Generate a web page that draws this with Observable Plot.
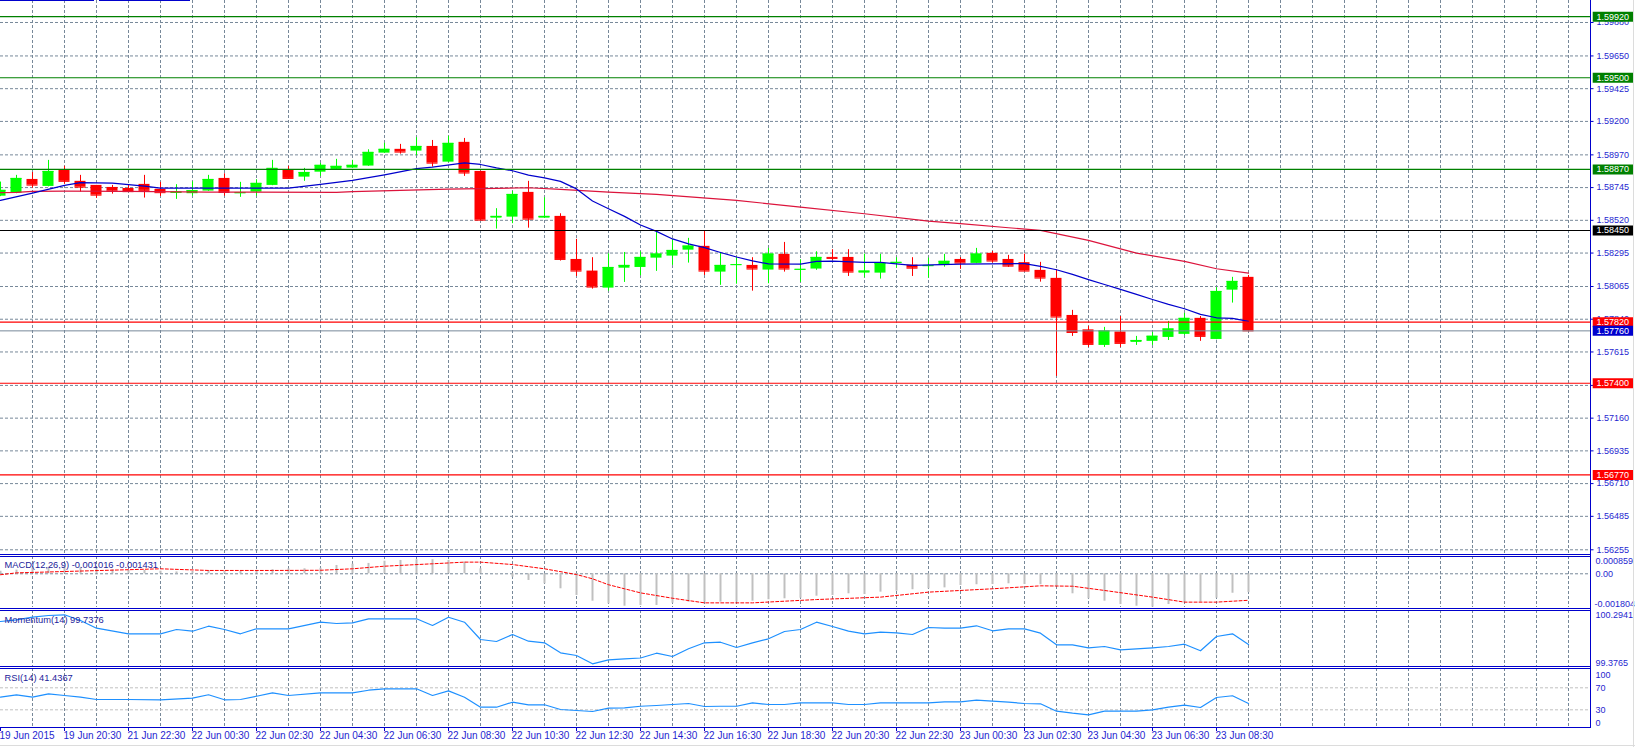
<!DOCTYPE html>
<html><head><meta charset="utf-8">
<script src="https://cdn.jsdelivr.net/npm/d3@7"></script>
<script src="https://cdn.jsdelivr.net/npm/@observablehq/plot@0.6"></script>
<style>
html,body{margin:0;padding:0;background:#fff;}
#chart{position:relative;width:1635px;height:747px;overflow:hidden;background:#fff;}
.bl{position:absolute;background:#0000cc;}
</style></head><body><div id="chart"></div>
<script>
// ---------------- DATA ----------------
const timeTickBars = [0,4,8,12,16,20,24,28,32,36,40,44,48,52,56,60,64,68,72,76];
const timeTickLabels = ["19 Jun 2015","19 Jun 20:30","21 Jun 22:30","22 Jun 00:30","22 Jun 02:30","22 Jun 04:30","22 Jun 06:30","22 Jun 08:30","22 Jun 10:30","22 Jun 12:30","22 Jun 14:30","22 Jun 16:30","22 Jun 18:30","22 Jun 20:30","22 Jun 22:30","23 Jun 00:30","23 Jun 02:30","23 Jun 04:30","23 Jun 06:30","23 Jun 08:30"];
const priceTicks = [1.59880,1.59650,1.59425,1.59200,1.58970,1.58745,1.58520,1.58295,1.58065,1.57840,1.57615,1.57385,1.57160,1.56935,1.56710,1.56485,1.56255];

const openP  = [1.58686,1.58707,1.58801,1.58753,1.58865,1.58788,1.58760,1.58746,1.58739,1.58767,1.58733,1.58705,1.58703,1.58721,1.58808,1.58703,1.58714,1.58760,1.58865,1.58817,1.58851,1.58870,1.58879,1.58893,1.58982,1.59008,1.58996,1.59028,1.58920,1.59056,1.58856,1.58535,1.58542,1.58712,1.58535,1.58547,1.58251,1.58171,1.58054,1.58191,1.58196,1.58260,1.58274,1.58315,1.58341,1.58164,1.58210,1.58210,1.58178,1.58286,1.58178,1.58185,1.58265,1.58265,1.58157,1.58157,1.58224,1.58212,1.58203,1.58210,1.58251,1.58224,1.58293,1.58251,1.58229,1.58176,1.58121,1.57866,1.57767,1.57660,1.57752,1.57681,1.57688,1.57715,1.57736,1.57846,1.57701,1.58040,1.58128];
const highP  = [1.58783,1.58829,1.58849,1.58932,1.58891,1.58829,1.58760,1.58760,1.58765,1.58829,1.58781,1.58765,1.58785,1.58829,1.58840,1.58781,1.58799,1.58932,1.58891,1.58877,1.58911,1.58939,1.58932,1.59005,1.59049,1.59042,1.59088,1.59069,1.59097,1.59083,1.58858,1.58600,1.58719,1.58788,1.58675,1.58565,1.58389,1.58263,1.58290,1.58299,1.58304,1.58444,1.58387,1.58396,1.58444,1.58299,1.58263,1.58263,1.58327,1.58368,1.58249,1.58304,1.58318,1.58318,1.58288,1.58286,1.58263,1.58263,1.58260,1.58286,1.58263,1.58327,1.58306,1.58279,1.58288,1.58231,1.58180,1.57901,1.57791,1.57784,1.57859,1.57722,1.57749,1.57825,1.57880,1.57859,1.58057,1.58128,1.58141];
const lowP   = [1.58683,1.58703,1.58741,1.58750,1.58767,1.58714,1.58671,1.58700,1.58715,1.58673,1.58684,1.58664,1.58686,1.58719,1.58686,1.58678,1.58686,1.58758,1.58806,1.58788,1.58822,1.58868,1.58877,1.58891,1.58980,1.58975,1.58964,1.58886,1.58918,1.58822,1.58519,1.58460,1.58497,1.58466,1.58533,1.58240,1.58134,1.58047,1.58033,1.58093,1.58139,1.58169,1.58210,1.58226,1.58141,1.58073,1.58081,1.58033,1.58084,1.58164,1.58093,1.58176,1.58244,1.58134,1.58125,1.58116,1.58191,1.58134,1.58123,1.58198,1.58183,1.58222,1.58226,1.58196,1.58169,1.58095,1.57447,1.57722,1.57646,1.57646,1.57646,1.57660,1.57660,1.57694,1.57729,1.57688,1.57699,1.57951,1.57760];
const closeP = [1.58726,1.58808,1.58762,1.58856,1.58788,1.58748,1.58693,1.58721,1.58717,1.58726,1.58710,1.58714,1.58724,1.58801,1.58712,1.58710,1.58774,1.58877,1.58808,1.58849,1.58898,1.58891,1.58898,1.58987,1.59008,1.58989,1.59028,1.58913,1.59049,1.58845,1.58521,1.58547,1.58698,1.58528,1.58547,1.58251,1.58171,1.58061,1.58196,1.58210,1.58265,1.58288,1.58313,1.58343,1.58171,1.58210,1.58215,1.58185,1.58288,1.58185,1.58183,1.58265,1.58258,1.58164,1.58171,1.58224,1.58231,1.58191,1.58208,1.58238,1.58226,1.58288,1.58240,1.58205,1.58171,1.58123,1.57855,1.57749,1.57667,1.57759,1.57674,1.57694,1.57723,1.57773,1.57846,1.57722,1.58031,1.58100,1.57760];

const maFastBars = [0,2,4,5,7,9,10,18,20,22,24,26,27,29,30,31,32,33,34,35,36,37,38,39,40,41,42,43,44,45,46,47,48,50,51,52,54,55,57,60,64,65,66,67,68,69,70,71,72,73,74,75,76,77,78];
const maFastVals = [1.58657,1.58707,1.58760,1.58779,1.58776,1.58755,1.58741,1.58741,1.58767,1.58794,1.58832,1.58875,1.58886,1.58915,1.58904,1.58880,1.58861,1.58831,1.58812,1.58788,1.58736,1.58653,1.58600,1.58547,1.58488,1.58444,1.58392,1.58358,1.58332,1.58299,1.58268,1.58241,1.58220,1.58219,1.58238,1.58240,1.58231,1.58231,1.58210,1.58219,1.58222,1.58203,1.58180,1.58148,1.58112,1.58079,1.58045,1.58011,1.57976,1.57942,1.57912,1.57873,1.57850,1.57846,1.57825];
const maSlowBars = [0,1,2,4,8,13,21,22,25,28,31,33,35,38,41,46,50,54,58,60,63,65,68,71,74,76,78];
const maSlowVals = [1.58710,1.58712,1.58719,1.58721,1.58719,1.58714,1.58712,1.58717,1.58726,1.58735,1.58739,1.58744,1.58733,1.58714,1.58698,1.58657,1.58611,1.58565,1.58515,1.58497,1.58469,1.58451,1.58382,1.58295,1.58238,1.58187,1.58157];

const levelPrices = [1.59920,1.59500,1.58870,1.58450,1.57820,1.57400,1.56770];
const levelColors = ["#008000","#008000","#008000","#000000","#ff0000","#ff0000","#ff0000"];
const bidPrice = 1.57760;

const macdMain = [0.00014,0.00020,0.00032,0.00035,0.00039,0.00035,0.00027,0.00022,0.00018,0.00018,0.00014,0.00010,0.00012,0.00018,0.00014,0.00012,0.00016,0.00022,0.00027,0.00027,0.00030,0.00045,0.00052,0.00056,0.00068,0.00072,0.00076,0.00076,0.00072,0.00063,0.00027,-0.00005,-0.00018,-0.00036,-0.00054,-0.00081,-0.00117,-0.00148,-0.00162,-0.00175,-0.00171,-0.00171,-0.00159,-0.00153,-0.00153,-0.00153,-0.00153,-0.00148,-0.00140,-0.00135,-0.00132,-0.00121,-0.00117,-0.00108,-0.00112,-0.00099,-0.00094,-0.00086,-0.00081,-0.00076,-0.00063,-0.00059,-0.00058,-0.00054,-0.00058,-0.00059,-0.00067,-0.00108,-0.00135,-0.00148,-0.00166,-0.00175,-0.00180,-0.00166,-0.00153,-0.00153,-0.00132,-0.00105,-0.001016];
const macdSigBars = [0,1,10,13,17,20,22,24,27,29,30,32,34,36,37,38,39,40,42,44,47,51,55,58,62,65,67,69,72,74,76,78];
const macdSigVals = [-0.00005,0.00005,0.00027,0.00018,0.00018,0.00019,0.00027,0.00041,0.00054,0.00063,0.00063,0.00050,0.00027,-0.00004,-0.00027,-0.00059,-0.00081,-0.00103,-0.00132,-0.00157,-0.00157,-0.00139,-0.00126,-0.00099,-0.00081,-0.00065,-0.00067,-0.00090,-0.00126,-0.00153,-0.00153,-0.001431];

const momBars = [0,1,2,3,4,5,6,8,10,11,12,13,14,15,16,18,20,21,22,23,26,27,28,29,30,31,32,33,34,35,36,37,38,39,40,41,42,43,44,45,46,47,48,49,50,51,52,53,54,55,56,57,58,59,60,61,62,63,64,65,66,67,68,69,70,71,72,73,74,75,76,77,78];
const momVals = [100.1257,100.1544,100.1981,100.2268,100.2385,100.1426,100.0129,99.9186,99.9186,99.9910,99.9624,100.0466,99.9910,99.9186,100.0028,100.0028,100.1139,100.0921,100.1038,100.1712,100.1712,100.0584,100.1981,100.1139,99.8227,99.7890,99.9068,99.7940,99.7671,99.5987,99.5533,99.4135,99.4809,99.4977,99.5112,99.5920,99.5364,99.6661,99.7671,99.7772,99.6880,99.7671,99.8345,99.9574,99.9910,100.1139,100.0415,99.9624,99.9186,99.9456,99.9355,99.9068,100.0247,100.0129,100.0129,100.0533,99.9692,100.0028,100.0028,99.9287,99.7334,99.7334,99.6829,99.7048,99.6493,99.6661,99.6829,99.7048,99.7435,99.6324,99.8732,99.9186,99.7376];

const rsiBars = [0,1,2,3,4,5,6,8,10,12,13,14,15,16,17,18,20,22,23,24,26,27,28,29,30,31,32,33,34,35,36,37,38,39,40,41,42,43,44,45,46,47,48,49,50,51,52,53,54,55,56,57,58,59,60,61,62,63,64,65,66,67,68,69,70,71,72,73,74,75,76,77,78];
const rsiVals = [52.9,57.3,52.9,59.1,56.0,52.9,48.7,48.7,48.2,51.1,57.3,48.2,48.7,54.7,60.9,56.0,60.9,60.9,65.6,68.2,68.2,56.0,64.5,52.9,34.7,34.7,43.8,39.1,39.1,30.5,28.7,26.9,32.9,33.6,36.5,37.8,39.6,41.5,36.0,36.5,36.5,42.7,39.6,39.6,42.7,42.7,42.7,39.6,39.6,42.7,42.7,42.5,42.7,44.5,44.5,47.5,45.6,43.8,41.5,40.9,27.5,23.8,20.9,27.5,27.5,27.5,30.0,34.7,38.4,34.2,52.4,55.5,41.4367];

const macdTitle = "MACD(12,26,9) -0.001016 -0.001431";
const momTitle = "Momentum(14) 99.7376";
const rsiTitle = "RSI(14) 41.4367";

// ---------------- LAYOUT / STYLE ----------------
const FONT = "'Liberation Sans', Arial, sans-serif";
const AXIS_X = 1590, BAR_PX = 16, XMAX = AXIS_X / BAR_PX;
const GRID = "#778899", AXIS = "#0000cc", TXT = "#1f1fd0", TITLE = "#22229a";
const PRICE_FS = 9, IND_FS = 9, TITLE_FS = 9.3, TIME_FS = 10;
const chart = document.getElementById("chart");

function panel(top, height, yDomain, marks) {
  const svg = Plot.plot({
    width: 1635, height, marginLeft: 0, marginRight: 45, marginTop: 0, marginBottom: 0,
    x: {domain: [0, XMAX], range: [0, AXIS_X], axis: null},
    y: {domain: yDomain, range: [height, 0], axis: null},
    color: {type: "identity"},
    style: {background: "transparent", overflow: "visible", fontFamily: FONT},
    marks
  });
  svg.style.position = "absolute";
  svg.style.left = "0px";
  svg.style.top = top + "px";
  chart.appendChild(svg);
}
const vGrid = d3.range(2, XMAX, 2);
const gridX = Plot.ruleX(vGrid, {x: d => d, stroke: GRID, strokeDasharray: "3,2"});

// ---------- main price panel ----------
const candles = openP.map((o, i) => ({i, open: o, high: highP[i], low: lowP[i], close: closeP[i]}));
const cc = d => d.close >= d.open ? "#00ff00" : "#ff0000";
const HW = 0.34375;
const fast = maFastBars.map((b, k) => ({i: b, v: maFastVals[k]}));
const slow = maSlowBars.map((b, k) => ({i: b, v: maSlowVals[k]}));
const levels = levelPrices.map((p, k) => ({p, c: levelColors[k]}));
const boxes = levels.concat([{p: bidPrice, c: "#0000cd"}]);
const fmt5 = d => d.toFixed(5);

panel(0, 554, [1.562226, 1.600312], [
  gridX,
  Plot.ruleY(priceTicks, {y: d => d, stroke: GRID, strokeDasharray: "3,2"}),
  Plot.ruleX(candles, {x: "i", y1: "low", y2: "high", stroke: cc}),
  Plot.rect(candles, {x1: d => d.i - HW, x2: d => d.i + HW, y1: "open", y2: "close", fill: cc}),
  Plot.ruleY(candles, {x1: d => d.i - HW, x2: d => d.i + HW, y: "close", stroke: cc}),
  Plot.line(slow, {x: "i", y: "v", stroke: "#dc143c", strokeWidth: 1.2}),
  Plot.line(fast, {x: "i", y: "v", stroke: "#0000cc", strokeWidth: 1.2}),
  Plot.ruleY(levels, {y: "p", stroke: "c", strokeWidth: 1.2}),
  Plot.ruleY([bidPrice], {y: d => d, stroke: GRID}),
  Plot.ruleY(priceTicks, {y: d => d, x1: () => XMAX, x2: () => XMAX + 0.22, stroke: AXIS}),
  Plot.text(priceTicks, {y: d => d, frameAnchor: "right", dx: 6, text: fmt5, textAnchor: "start", fill: TXT, fontSize: PRICE_FS}),
  Plot.ruleY(boxes, {y: "p", x1: () => XMAX + 0.17, x2: () => XMAX + 2.75, stroke: "c", strokeWidth: 10}),
  Plot.text(boxes, {y: "p", frameAnchor: "right", dx: 6, text: d => fmt5(d.p), textAnchor: "start", fill: "#ffffff", fontSize: PRICE_FS})
]);

// ---------- MACD ----------
const macdBars = macdMain.map((v, i) => ({i, v}));
const macdSig = macdSigBars.map((b, k) => ({i: b, v: macdSigVals[k]}));
panel(556, 51, [-0.00182, 0.000934], [
  gridX,
  Plot.ruleY([0], {y: d => d, stroke: GRID, strokeDasharray: "3,2"}),
  Plot.ruleX(macdBars, {x: "i", y1: () => 0, y2: "v", stroke: "#c0c0c0", strokeWidth: 2}),
  Plot.line(macdSig, {x: "i", y: "v", stroke: "#ff0000", strokeWidth: 1, strokeDasharray: "3,2"}),
  Plot.text([macdTitle], {frameAnchor: "top-left", dx: 4, dy: 9, text: d => d, lineAnchor: "middle", textAnchor: "start", fill: TITLE, fontSize: TITLE_FS}),
  Plot.text([0.000859], {y: d => d, frameAnchor: "right", dx: 5, text: d => "0.000859", lineAnchor: "top", textAnchor: "start", fill: TXT, fontSize: IND_FS}),
  Plot.text([0], {y: d => d, frameAnchor: "right", dx: 5, text: d => "0.00", lineAnchor: "middle", textAnchor: "start", fill: TXT, fontSize: IND_FS}),
  Plot.text([-0.001804], {y: d => d, frameAnchor: "right", dx: 4, text: d => "-0.001804", lineAnchor: "bottom", textAnchor: "start", fill: TXT, fontSize: IND_FS})
]);

// ---------- Momentum ----------
const mom = momBars.map((b, k) => ({i: b, v: momVals[k]}));
panel(610, 56, [99.3681, 100.3109], [
  gridX,
  Plot.line(mom, {x: "i", y: "v", stroke: "#1e90ff", strokeWidth: 1.2}),
  Plot.text([momTitle], {frameAnchor: "top-left", dx: 4, dy: 9.3, text: d => d, lineAnchor: "middle", textAnchor: "start", fill: TITLE, fontSize: TITLE_FS}),
  Plot.text([100.2941], {y: d => d, frameAnchor: "right", dx: 5, text: d => "100.2941", lineAnchor: "top", textAnchor: "start", fill: TXT, fontSize: IND_FS}),
  Plot.text([99.3765], {y: d => d, frameAnchor: "right", dx: 5, text: d => "99.3765", lineAnchor: "bottom", textAnchor: "start", fill: TXT, fontSize: IND_FS})
]);

// ---------- RSI ----------
const rsi = rsiBars.map((b, k) => ({i: b, v: rsiVals[k]}));
panel(668, 59, [-2.18, 105.09], [
  gridX,
  Plot.ruleY([70, 30], {y: d => d, stroke: "#c0c0c0", strokeDasharray: "3,2"}),
  Plot.line(rsi, {x: "i", y: "v", stroke: "#1e90ff", strokeWidth: 1.2}),
  Plot.text([rsiTitle], {frameAnchor: "top-left", dx: 4, dy: 9.7, text: d => d, lineAnchor: "middle", textAnchor: "start", fill: TITLE, fontSize: TITLE_FS}),
  Plot.text([100], {y: d => d, frameAnchor: "right", dx: 5, text: d => String(d), lineAnchor: "top", textAnchor: "start", fill: TXT, fontSize: IND_FS}),
  Plot.text([70, 30], {y: d => d, frameAnchor: "right", dx: 5, text: d => String(d), lineAnchor: "middle", textAnchor: "start", fill: TXT, fontSize: IND_FS}),
  Plot.text([0], {y: d => d, frameAnchor: "right", dx: 5, text: d => String(d), lineAnchor: "bottom", textAnchor: "start", fill: TXT, fontSize: IND_FS})
]);

// ---------- time axis ----------
panel(727, 20, [20, 0], [
  Plot.ruleX(timeTickBars, {x: d => d, y1: () => 0, y2: () => 4, stroke: AXIS}),
  Plot.text(timeTickBars, {x: d => d, y: () => 8.5, text: (d, k) => timeTickLabels[k], textAnchor: "start", dx: -1, lineAnchor: "middle", fill: TXT, fontSize: TIME_FS})
]);

// ---------- panel frames ----------
function line(l, t, w, h, color) {
  const d = document.createElement("div");
  d.className = "bl";
  d.style.left = l + "px"; d.style.top = t + "px"; d.style.width = w + "px"; d.style.height = h + "px";
  if (color) d.style.background = color;
  chart.appendChild(d);
}
[554, 556, 608, 610, 666, 668, 727].forEach(y => line(0, y, AXIS_X + 1, 1));
line(AXIS_X, 0, 1, 728);
line(0, 0, 94, 1);
line(99, 0, 91, 1);
line(0, 745, 1635, 1, "#dcdcdc");
line(1633, 0, 1, 747, "#dcdcdc");
</script></body></html>
